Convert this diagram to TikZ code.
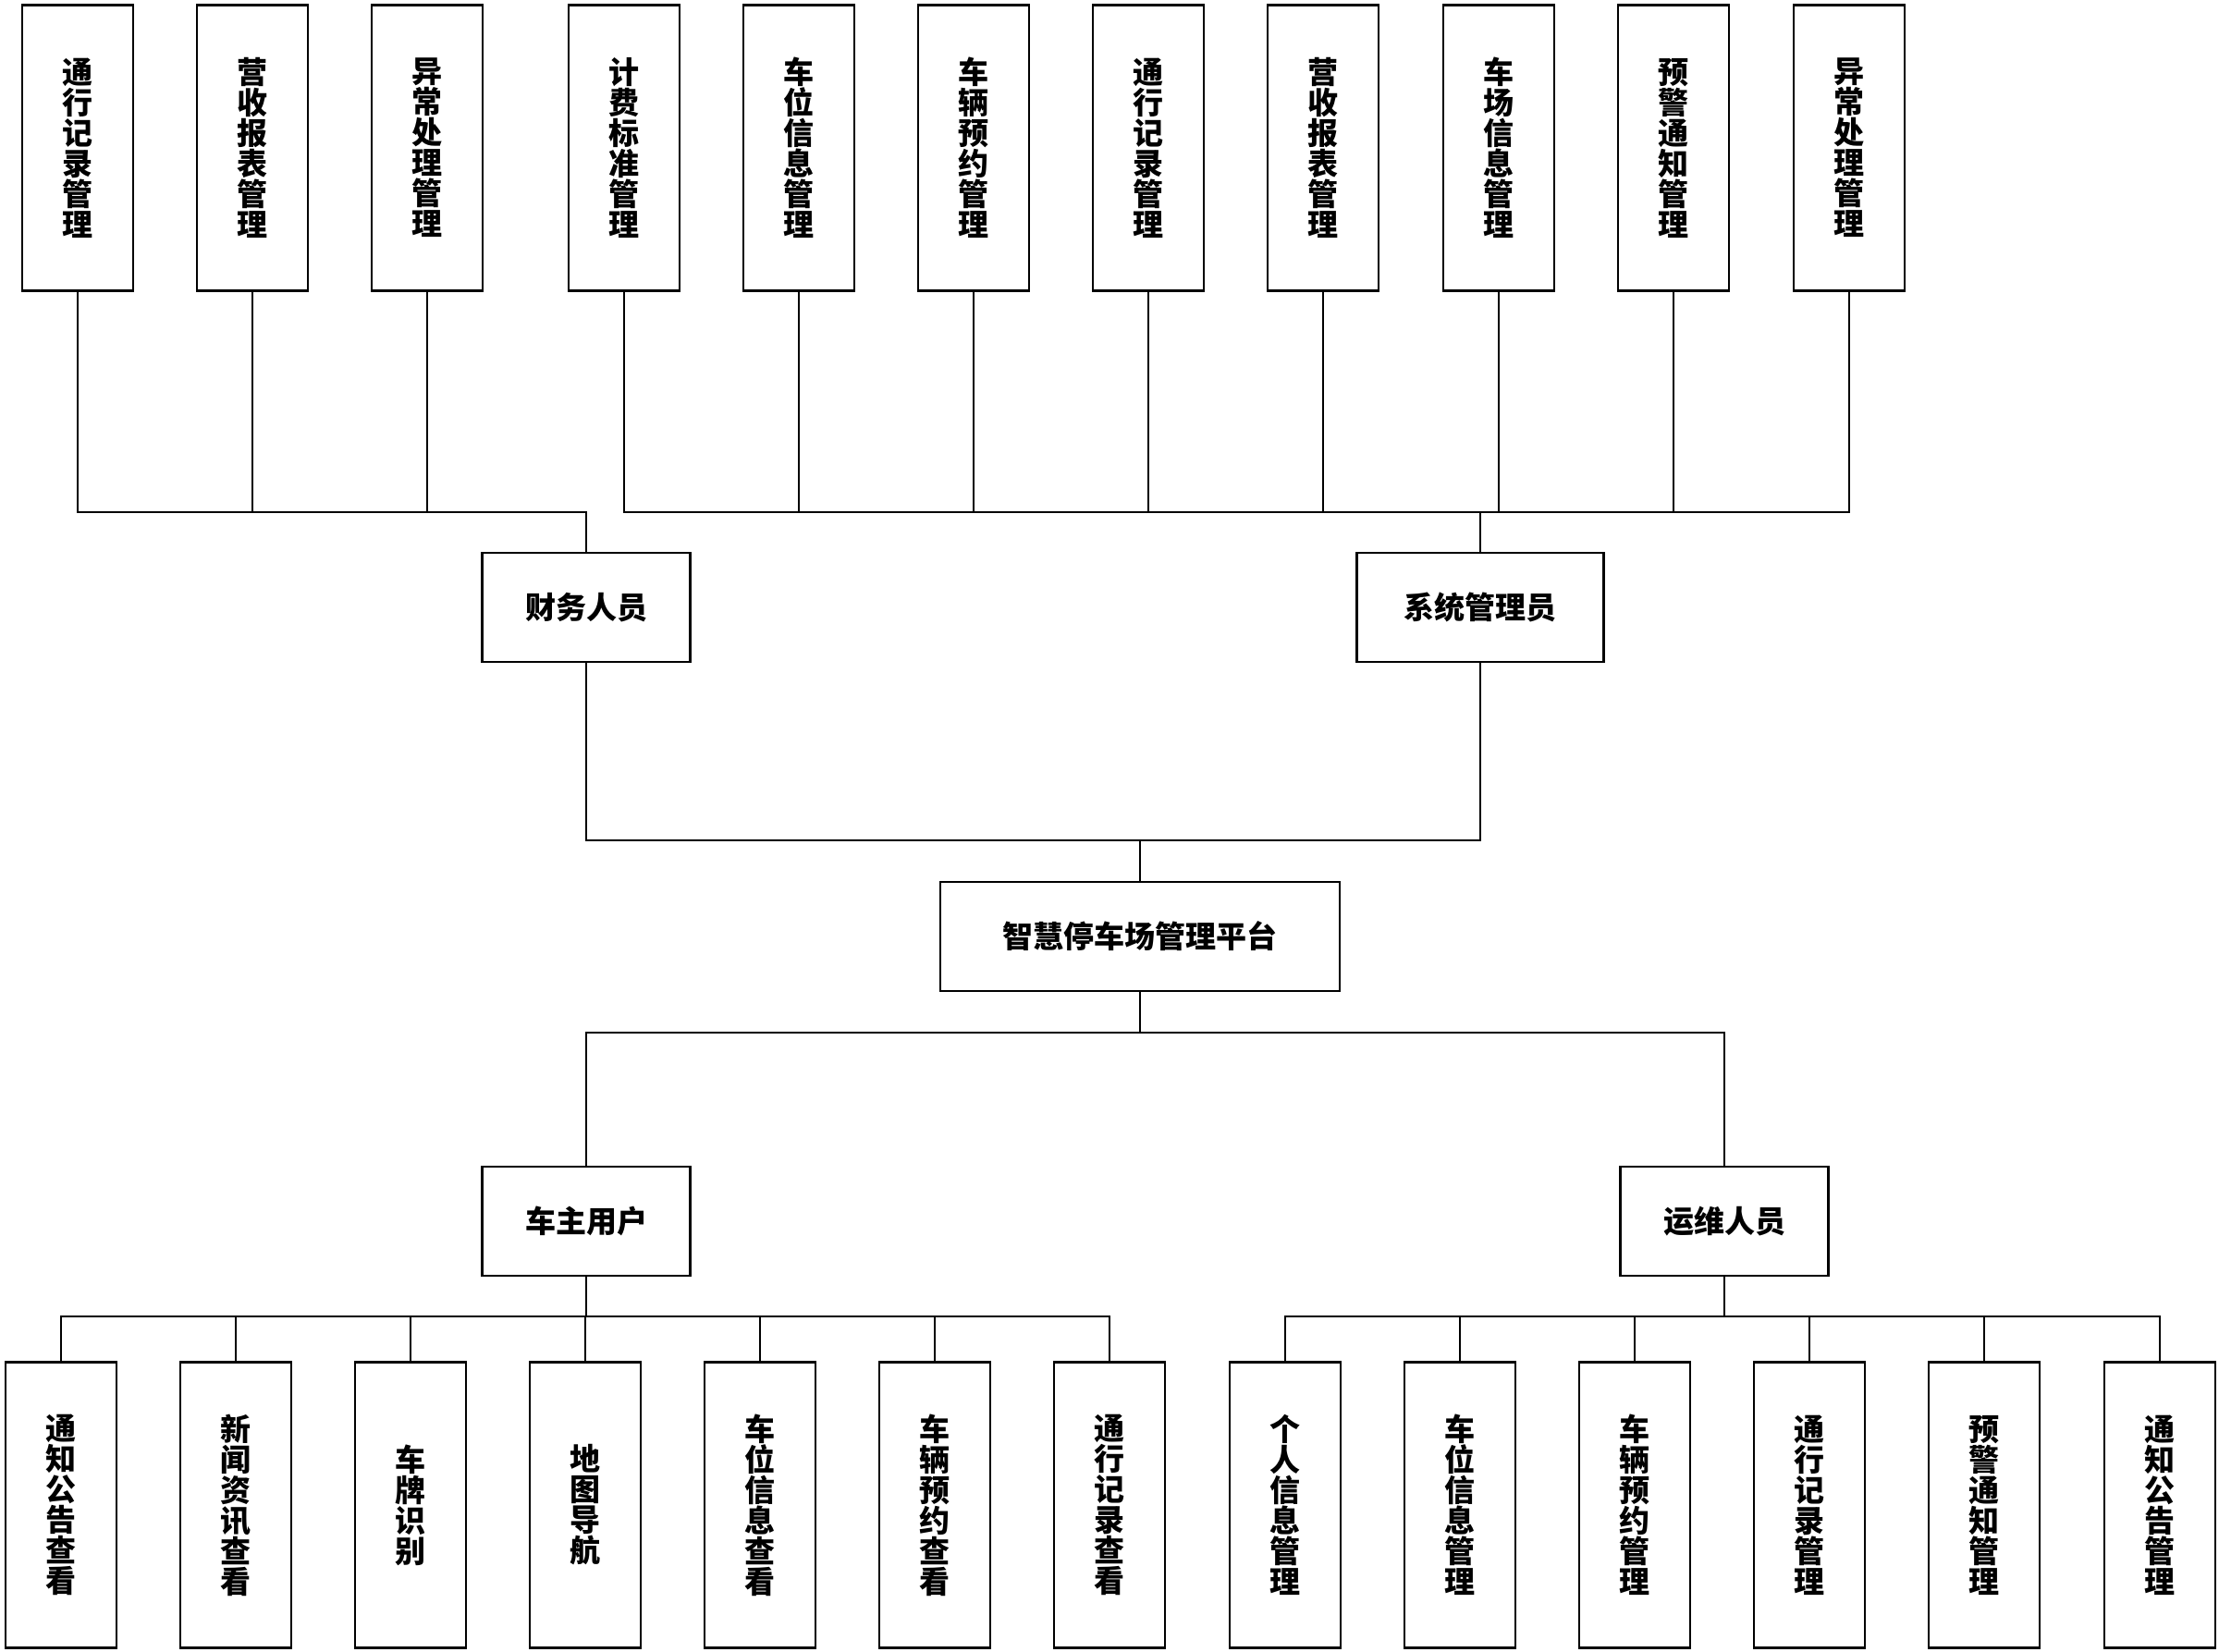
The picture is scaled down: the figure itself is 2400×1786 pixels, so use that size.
\documentclass[tikz,border=0pt]{standalone}
\usepackage{fontspec}
\newfontfamily\cjk{Noto Sans CJK SC}
\XeTeXlinebreaklocale "zh"
\XeTeXlinebreakskip=0pt plus 1pt

\begin{document}
\begin{tikzpicture}[x=1pt,y=-1pt,
	leaf/.style={draw,line width=2.6pt,minimum width=120pt,minimum height=309pt,inner sep=0pt,
		text width=34pt,align=center,font=\cjk\bfseries\fontsize{33}{33}\selectfont},
	role/.style={draw,line width=2.6pt,minimum height=118pt,inner sep=0pt,
		font=\cjk\bfseries\fontsize{33}{33}\selectfont},
	link/.style={line width=1.6pt}]
	\useasboundingbox (0,0) rectangle (2400,1786);
	% bus levels
	\coordinate (busT) at (0,554);
	\coordinate (busM) at (0,909);
	\coordinate (busL) at (0,1117);
	\coordinate (busB) at (0,1424);
	% top row
	\node[leaf] (t1) at (84,160) {通行记录管理};
	\node[leaf] (t2) at (273,160) {营收报表管理};
	\node[leaf] (t3) at (462,160) {异常处理管理};
	\node[leaf] (t4) at (675,160) {计费标准管理};
	\node[leaf] (t5) at (864,160) {车位信息管理};
	\node[leaf] (t6) at (1053,160) {车辆预约管理};
	\node[leaf] (t7) at (1242,160) {通行记录管理};
	\node[leaf] (t8) at (1431,160) {营收报表管理};
	\node[leaf] (t9) at (1621,160) {车场信息管理};
	\node[leaf] (t10) at (1810,160) {预警通知管理};
	\node[leaf] (t11) at (2000,160) {异常处理管理};
	% roles
	\node[role,minimum width=225pt] (fin) at (634,657) {财务人员};
	\node[role,minimum width=267pt] (adm) at (1601,657) {系统管理员};
	\node[role,minimum width=432pt] (plat) at (1233,1013) {智慧停车场管理平台};
	\node[role,minimum width=225pt] (own) at (634,1321) {车主用户};
	\node[role,minimum width=225pt] (ops) at (1865,1321) {运维人员};
	% bottom row
	\node[leaf] (b1) at (66,1628) {通知公告查看};
	\node[leaf] (b2) at (255,1628) {新闻资讯查看};
	\node[leaf] (b3) at (444,1628) {车牌识别};
	\node[leaf] (b4) at (633,1628) {地图导航};
	\node[leaf] (b5) at (822,1628) {车位信息查看};
	\node[leaf] (b6) at (1011,1628) {车辆预约查看};
	\node[leaf] (b7) at (1200,1628) {通行记录查看};
	\node[leaf] (b8) at (1390,1628) {个人信息管理};
	\node[leaf] (b9) at (1579,1628) {车位信息管理};
	\node[leaf] (b10) at (1768,1628) {车辆预约管理};
	\node[leaf] (b11) at (1957,1628) {通行记录管理};
	\node[leaf] (b12) at (2146,1628) {预警通知管理};
	\node[leaf] (b13) at (2336,1628) {通知公告管理};
	% connectors
	\draw[link] (t1.south) |- (busT -| fin.north) -- (fin.north);
	\draw[link] (t2.south) |- (busT -| fin.north);
	\draw[link] (t3.south) |- (busT -| fin.north);
	\draw[link] (t4.south) |- (busT -| adm.north) -- (adm.north);
	\draw[link] (t5.south) |- (busT -| adm.north);
	\draw[link] (t6.south) |- (busT -| adm.north);
	\draw[link] (t7.south) |- (busT -| adm.north);
	\draw[link] (t8.south) |- (busT -| adm.north);
	\draw[link] (t9.south) |- (busT -| adm.north);
	\draw[link] (t10.south) |- (busT -| adm.north);
	\draw[link] (t11.south) |- (busT -| adm.north);
	\draw[link] (fin.south) |- (busM -| plat.north) -- (plat.north);
	\draw[link] (adm.south) |- (busM -| plat.north);
	\draw[link] (plat.south) |- (busL -| own.north) -- (own.north);
	\draw[link] (plat.south) |- (busL -| ops.north) -- (ops.north);
	\draw[link] (own.south) |- (busB -| b1.north) -- (b1.north);
	\draw[link] (own.south) |- (busB -| b2.north) -- (b2.north);
	\draw[link] (own.south) |- (busB -| b3.north) -- (b3.north);
	\draw[link] (own.south) |- (busB -| b4.north) -- (b4.north);
	\draw[link] (own.south) |- (busB -| b5.north) -- (b5.north);
	\draw[link] (own.south) |- (busB -| b6.north) -- (b6.north);
	\draw[link] (own.south) |- (busB -| b7.north) -- (b7.north);
	\draw[link] (ops.south) |- (busB -| b8.north) -- (b8.north);
	\draw[link] (ops.south) |- (busB -| b9.north) -- (b9.north);
	\draw[link] (ops.south) |- (busB -| b10.north) -- (b10.north);
	\draw[link] (ops.south) |- (busB -| b11.north) -- (b11.north);
	\draw[link] (ops.south) |- (busB -| b12.north) -- (b12.north);
	\draw[link] (ops.south) |- (busB -| b13.north) -- (b13.north);
\end{tikzpicture}
\end{document}
